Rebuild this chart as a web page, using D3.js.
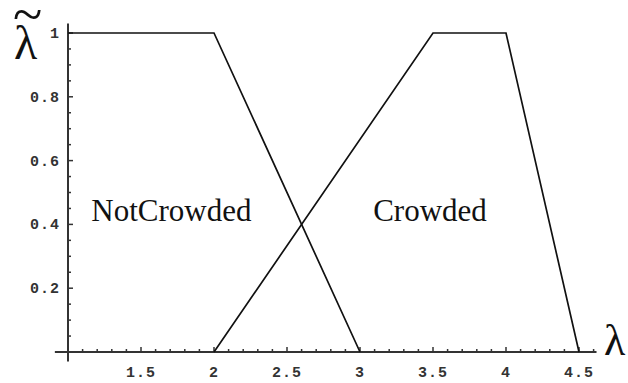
<!DOCTYPE html>
<html><head><meta charset="utf-8">
<script src="https://cdn.jsdelivr.net/npm/d3@7"></script>
<style>
html,body{margin:0;padding:0;background:#fff;}
svg{display:block;}
</style></head>
<body>
<svg id="chart" width="628" height="383"></svg>
<script>
// ---- data ----
const xTickValues = [1.5, 2, 2.5, 3, 3.5, 4, 4.5];
const yTickValues = [0.2, 0.4, 0.6, 0.8, 1];
const notCrowdedX = [1, 2, 3];
const notCrowdedY = [1, 1, 0];
const crowdedX = [2, 3.5, 4, 4.5];
const crowdedY = [0, 1, 1, 0];
const seriesLabels = ["NotCrowded", "Crowded"];
const labelX = [1.16, 3.09];
const labelY = [0.4, 0.4];

const svg = d3.select("#chart");
const x = d3.scaleLinear().domain([1, 4.5]).range([68, 579]);
const y = d3.scaleLinear().domain([0, 1]).range([352, 33]);
const axisColor = "#333";
const tickFont = "'Liberation Mono','Courier New',monospace";

// axes lines
svg.append("line").attr("x1", x(0.91)).attr("x2", x(4.62))
  .attr("y1", y(0)).attr("y2", y(0))
  .attr("stroke", axisColor).attr("stroke-width", 2);
svg.append("line").attr("x1", x(1)).attr("x2", x(1))
  .attr("y1", y(-0.03)).attr("y2", y(1.03))
  .attr("stroke", axisColor).attr("stroke-width", 2);

// x ticks
const xMinor = d3.range(11, 47).map(d => d / 10).filter(v => !xTickValues.some(t => Math.abs(t - v) < 1e-6));
svg.append("g").selectAll("line").data(xMinor).join("line")
  .attr("x1", d => x(d)).attr("x2", d => x(d))
  .attr("y1", y(0)).attr("y2", y(0) - 3)
  .attr("stroke", axisColor).attr("stroke-width", 1.5);
svg.append("g").selectAll("line").data(xTickValues).join("line")
  .attr("x1", d => x(d)).attr("x2", d => x(d))
  .attr("y1", y(0)).attr("y2", y(0) - 5)
  .attr("stroke", axisColor).attr("stroke-width", 1.5);
svg.append("g").selectAll("text").data(xTickValues).join("text")
  .attr("x", d => x(d)).attr("y", y(0) + 25)
  .attr("text-anchor", "middle")
  .attr("font-family", tickFont).attr("font-size", 15).attr("font-weight", "bold")
  .attr("fill", "#333").attr("letter-spacing", 1)
  .text(d => d3.format("")(d));

// y ticks
const yMinor = d3.range(1, 21).map(d => d / 20).filter(v => !yTickValues.some(t => Math.abs(t - v) < 1e-6));
svg.append("g").selectAll("line").data(yMinor).join("line")
  .attr("x1", x(1)).attr("x2", x(1) + 3)
  .attr("y1", d => y(d)).attr("y2", d => y(d))
  .attr("stroke", axisColor).attr("stroke-width", 1.5);
svg.append("g").selectAll("line").data(yTickValues).join("line")
  .attr("x1", x(1)).attr("x2", x(1) + 5)
  .attr("y1", d => y(d)).attr("y2", d => y(d))
  .attr("stroke", axisColor).attr("stroke-width", 1.5);
svg.append("g").selectAll("text").data(yTickValues).join("text")
  .attr("x", x(1) - 8).attr("y", d => y(d) + 5)
  .attr("text-anchor", "end")
  .attr("font-family", tickFont).attr("font-size", 15).attr("font-weight", "bold")
  .attr("fill", "#333").attr("letter-spacing", 1)
  .text(d => d3.format("")(d));

// series
const line = d3.line().x(d => x(d[0])).y(d => y(d[1]));
const ncPts = notCrowdedX.map((v, i) => [v, notCrowdedY[i]]);
const cPts = crowdedX.map((v, i) => [v, crowdedY[i]]);
[ncPts, cPts].forEach(pts => {
  svg.append("path").datum(pts).attr("d", line)
    .attr("fill", "none").attr("stroke", "#111").attr("stroke-width", 1.7);
});

// series labels
svg.append("g").selectAll("text").data(seriesLabels).join("text")
  .attr("x", (d, i) => x(labelX[i])).attr("y", (d, i) => y(labelY[i]) - 3)
  .attr("font-family", "'Liberation Serif','Times New Roman',serif")
  .attr("font-size", 31).attr("fill", "#111")
  .text(d => d);

// axis labels
svg.append("text").attr("x", 14).attr("y", 59)
  .attr("font-family", "'Liberation Serif','Times New Roman',serif")
  .attr("font-size", 48).attr("fill", "#111").text("λ");
svg.append("text").attr("x", 13).attr("y", 33)
  .attr("font-family", "'Liberation Serif','Times New Roman',serif")
  .attr("font-size", 54).attr("fill", "#111").text("~");
svg.append("text").attr("x", 604).attr("y", 355)
  .attr("font-family", "'Liberation Serif','Times New Roman',serif")
  .attr("font-size", 44).attr("fill", "#111").text("λ");
</script>
</body></html>
